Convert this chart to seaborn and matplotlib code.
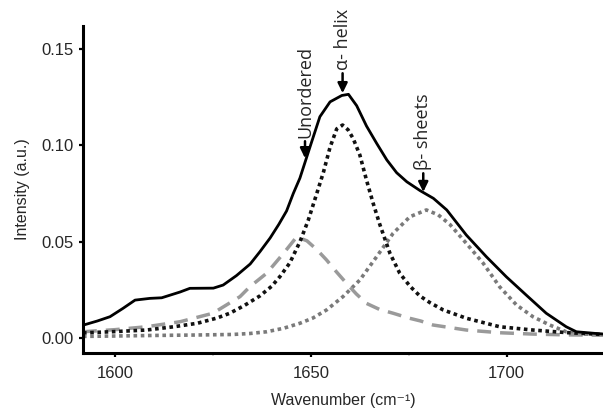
import matplotlib
matplotlib.use("Agg")
import matplotlib.pyplot as plt
import seaborn as sns
import pandas as pd

# ---- data ----
total_x = [1591.8, 1595.5, 1598.7, 1602.0, 1605.1, 1608.9, 1611.9, 1616.6, 1619.1, 1625.1,
           1627.6, 1631.0, 1634.5, 1637.0, 1639.6, 1641.8, 1643.8, 1645.5, 1647.2, 1649.8,
           1652.3, 1654.9, 1657.9, 1659.6, 1661.7, 1664.2, 1666.8, 1669.4, 1671.9, 1674.5,
           1677.9, 1681.3, 1684.7, 1689.7, 1694.8, 1699.9, 1705.0, 1710.1, 1715.2, 1717.8,
           1724.6]
total_y = [0.0068, 0.0090, 0.0112, 0.0155, 0.0198, 0.0207, 0.0210, 0.0240, 0.0259, 0.0260,
           0.0276, 0.0325, 0.0385, 0.0449, 0.0520, 0.0590, 0.0660, 0.0750, 0.0830, 0.0993,
           0.1148, 0.1225, 0.1258, 0.1264, 0.1205, 0.1100, 0.1010, 0.0924, 0.0858, 0.0811,
           0.0765, 0.0725, 0.0665, 0.0535, 0.0423, 0.0319, 0.0224, 0.0130, 0.0060, 0.0034,
           0.0022]

helix_x = [1591.8, 1600.0, 1608.0, 1615.0, 1621.0, 1626.0, 1629.3, 1633.0, 1637.0, 1640.0,
           1642.1, 1644.6, 1647.2, 1649.3, 1651.5, 1653.2, 1654.9, 1656.6, 1658.1, 1659.5,
           1660.8, 1662.5, 1664.2, 1665.9, 1667.6, 1670.2, 1672.7, 1675.3, 1677.8, 1680.4,
           1683.8, 1689.7, 1698.2, 1706.7, 1715.0, 1724.6]
helix_y = [0.0028, 0.0035, 0.0043, 0.0060, 0.0078, 0.0105, 0.0130, 0.0170, 0.0220, 0.0270,
           0.0320, 0.0390, 0.0500, 0.0610, 0.0750, 0.0860, 0.0990, 0.1085, 0.1105, 0.1080,
           0.1035, 0.0950, 0.0820, 0.0700, 0.0590, 0.0440, 0.0337, 0.0270, 0.0220, 0.0185,
           0.0147, 0.0104, 0.0060, 0.0043, 0.0030, 0.0020]

unordered_x = [1591.8, 1600.0, 1608.0, 1616.6, 1625.0, 1631.9, 1634.4, 1638.7, 1643.0, 1646.4,
               1649.0, 1651.5, 1654.0, 1656.5, 1659.1, 1661.6, 1664.2, 1667.5, 1671.0, 1675.0,
               1678.0, 1681.2, 1689.7, 1698.2, 1706.7, 1715.0, 1724.6]
unordered_y = [0.0034, 0.0045, 0.0060, 0.0086, 0.0130, 0.0216, 0.0267, 0.0337, 0.0440, 0.0526,
               0.0505, 0.0460, 0.0406, 0.0345, 0.0285, 0.0230, 0.0181, 0.0150, 0.0130, 0.0105,
               0.0090, 0.0069, 0.0043, 0.0029, 0.0022, 0.0018, 0.0016]

sheets_x = [1591.8, 1600.0, 1610.0, 1620.0, 1630.0, 1634.4, 1638.7, 1643.0, 1647.2, 1650.5,
            1654.0, 1658.2, 1662.5, 1666.8, 1671.0, 1675.3, 1679.5, 1682.5, 1685.5, 1689.7,
            1694.0, 1698.2, 1702.5, 1706.7, 1711.0, 1715.2, 1720.0, 1724.6]
sheets_y = [0.0010, 0.0012, 0.0015, 0.0017, 0.0020, 0.0025, 0.0034, 0.0052, 0.0078, 0.0105,
            0.0147, 0.0216, 0.0302, 0.0423, 0.0544, 0.0630, 0.0665, 0.0640, 0.0590, 0.0492,
            0.0389, 0.0267, 0.0173, 0.0112, 0.0069, 0.0034, 0.0022, 0.0020]

x_ticks = [1600, 1650, 1700]
y_ticks = [0.00, 0.05, 0.10, 0.15]
y_tick_labels = ["0.00", "0.05", "0.10", "0.15"]

labels = ["Unordered", "α- helix", "β- sheets"]
label_tip_x = [1648.5, 1658.1, 1678.7]
label_tip_y = [0.0933, 0.1270, 0.0758]
label_text_y = [0.1038, 0.1390, 0.0872]

# ---- plotting ----
sns.set_style("ticks")
plt.rcParams['font.family'] = ['Liberation Sans', 'DejaVu Sans']

fig = plt.figure(figsize=(6.03, 4.08), dpi=100)
ax = fig.add_axes([0.1376, 0.1348, 0.8624, 0.8015])

sns.lineplot(x=sheets_x, y=sheets_y, ax=ax, color="#7a7a7a", lw=2.6,
             estimator=None, sort=False)
ax.lines[-1].set_dashes((1, 1.0))
sns.lineplot(x=unordered_x, y=unordered_y, ax=ax, color="#9a9a9a", lw=2.5,
             estimator=None, sort=False)
ax.lines[-1].set_dashes((4.0, 2.6))
sns.lineplot(x=helix_x, y=helix_y, ax=ax, color="#111111", lw=2.6,
             estimator=None, sort=False)
ax.lines[-1].set_dashes((1, 1.0))
sns.lineplot(x=total_x, y=total_y, ax=ax, color="black", lw=2.0,
             estimator=None, sort=False)
ax.lines[-1].set_solid_joinstyle("round")

ax.set_xlim(1591.8, 1724.6)
ax.set_ylim(-0.0076, 0.1618)
ax.set_xticks(x_ticks)
ax.set_xticklabels([str(t) for t in x_ticks])
ax.set_xticks([1625, 1675], minor=True)
ax.set_yticks(y_ticks)
ax.set_yticklabels(y_tick_labels)

for side in ["top", "right"]:
    ax.spines[side].set_visible(False)
for side in ["left", "bottom"]:
    ax.spines[side].set_linewidth(2.2)
    ax.spines[side].set_color("black")

ax.tick_params(axis="both", which="major", direction="out", length=3, width=1.6,
               labelsize=12, color="black")
ax.tick_params(axis="x", which="major", pad=6)
ax.tick_params(axis="y", which="major", pad=4)
ax.tick_params(axis="x", which="minor", direction="out", length=2, width=1.2,
               color="#cccccc")

ax.set_xlabel("Wavenumber (cm⁻¹)", fontsize=11.5, labelpad=9)
ax.set_ylabel("Intensity (a.u.)", fontsize=11.5, labelpad=8)

for txt, tx, ty, ly in zip(labels, label_tip_x, label_tip_y, label_text_y):
    ax.annotate(txt, xy=(tx, ty), xytext=(tx, ly), rotation=90,
                ha="center", va="bottom", fontsize=13,
                family=["Open Sans", "DejaVu Sans"],
                arrowprops=dict(arrowstyle="-|>,head_length=0.45,head_width=0.22",
                                lw=1.8, color="black", shrinkA=0, shrinkB=0))

fig.savefig("out.png", dpi=100)
